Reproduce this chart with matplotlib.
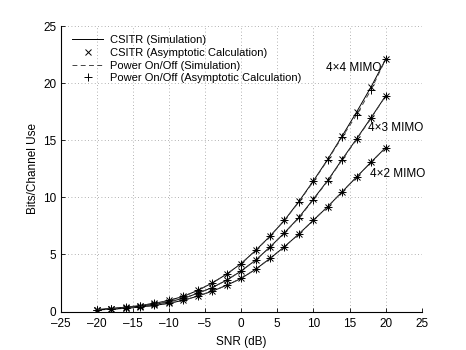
import numpy as np
import matplotlib
matplotlib.use("Agg")
import matplotlib.pyplot as plt

plt.rcParams['font.family'] = ['Liberation Sans', 'DejaVu Sans']

# SNR grid (dB)
snr = list(range(-20, 21, 2))

# CSITR capacity (bits/channel use)
csitr_4x4 = [0.17, 0.26, 0.38, 0.52, 0.72, 0.97, 1.33, 1.85, 2.5, 3.28, 4.2,
             5.35, 6.6, 8.0, 9.65, 11.45, 13.35, 15.4, 17.5, 19.7, 22.1]
csitr_4x3 = [0.15, 0.23, 0.33, 0.46, 0.63, 0.85, 1.15, 1.6, 2.1, 2.75, 3.55,
             4.5, 5.65, 6.9, 8.25, 9.85, 11.5, 13.35, 15.15, 17.0, 18.9]
csitr_4x2 = [0.13, 0.2, 0.28, 0.39, 0.53, 0.72, 0.98, 1.35, 1.78, 2.3, 2.9,
             3.7, 4.65, 5.68, 6.8, 8.0, 9.2, 10.5, 11.8, 13.1, 14.36]

# power on/off scheme
onoff_4x4 = [0.17, 0.26, 0.38, 0.52, 0.72, 0.97, 1.33, 1.85, 2.5, 3.28, 4.2,
             5.35, 6.6, 8.0, 9.6, 11.4, 13.3, 15.3, 17.25, 19.45, 22.1]
onoff_4x3 = [0.15, 0.23, 0.33, 0.46, 0.63, 0.85, 1.15, 1.6, 2.1, 2.75, 3.55,
             4.5, 5.65, 6.9, 8.2, 9.8, 11.45, 13.3, 15.1, 16.95, 18.9]
onoff_4x2 = [0.13, 0.2, 0.28, 0.39, 0.53, 0.72, 0.98, 1.35, 1.78, 2.3, 2.9,
             3.7, 4.65, 5.68, 6.8, 8.0, 9.2, 10.5, 11.8, 13.1, 14.36]

labels = ["4\u00d74 MIMO", "4\u00d73 MIMO", "4\u00d72 MIMO"]
label_pos = [(11.8, 21.35), (17.6, 16.1), (17.8, 12.06)]

fig = plt.figure(figsize=(4.66, 3.5), dpi=100)
ax = fig.add_axes([0.13, 0.11, 0.775, 0.815])

for i, (cs, oo) in enumerate(zip([csitr_4x4, csitr_4x3, csitr_4x2],
                                 [onoff_4x4, onoff_4x3, onoff_4x2])):
    ax.plot(snr, cs, '-', color='k', lw=0.7,
            label='CSITR (Simulation)' if i == 0 else None)
    ax.plot(snr, cs, 'x', color='k', ms=5, mew=0.7, linestyle='none',
            label='CSITR (Asymptotic Calculation)' if i == 0 else None)
    ax.plot(snr, oo, '--', color='#444444', lw=0.7, dashes=(5, 3.5),
            label='Power On/Off (Simulation)' if i == 0 else None)
    ax.plot(snr, oo, '+', color='k', ms=6, mew=0.7, linestyle='none',
            label='Power On/Off (Asymptotic Calculation)' if i == 0 else None)

for txt, (x, y) in zip(labels, label_pos):
    ax.text(x, y, txt, fontsize=8.5, va='center', ha='left')

ax.set_xlim(-25, 25)
ax.set_ylim(0, 25)
ax.set_xticks(range(-25, 26, 5))
ax.set_yticks(range(0, 26, 5))
ax.set_xticklabels([str(t).replace('-', '\u2013') for t in range(-25, 26, 5)])
ax.tick_params(direction='in', length=3, width=0.6, labelsize=8.5,
               top=False, right=False)
ax.tick_params(axis='x', pad=5)
ax.tick_params(axis='y', pad=3)
ax.spines['top'].set_visible(False)
ax.spines['right'].set_visible(False)
ax.grid(True, linestyle=(0, (1, 3)), color='#999999', lw=0.6)
ax.set_xlabel('SNR (dB)', fontsize=8.5, labelpad=4)
ax.set_ylabel('Bits/Channel Use', fontsize=8.5, labelpad=3)

leg = ax.legend(loc='upper left', frameon=False, fontsize=8,
                handlelength=2.8, handletextpad=0.6, labelspacing=0.25,
                bbox_to_anchor=(0.02, 0.985), borderaxespad=0)

fig.savefig('out.png', dpi=100)
